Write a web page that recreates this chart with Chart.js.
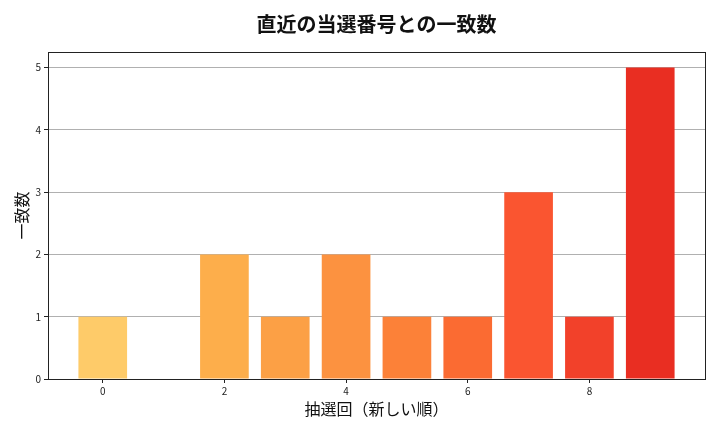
<!DOCTYPE html>
<html>
<head>
<meta charset="utf-8">
<script src="https://cdn.jsdelivr.net/npm/chart.js@4/dist/chart.umd.min.js"></script>
<style>
html,body{margin:0;padding:0;background:#fff;}
#wrap{width:720px;height:432px;position:relative;}
</style>
</head>
<body>
<div id="wrap"><canvas id="c" width="720" height="432"></canvas></div>
<script>
const titleText = "直近の当選番号との一致数";
const xTitle = "抽選回（新しい順）";
const yTitle = "一致数";
const drawIndex = [0,1,2,3,4,5,6,7,8,9];
const matchCounts = [1,0,2,1,2,1,1,3,1,5];
const barColors = ["#fecb69","#febd58","#fdae4b","#fca045","#fc9240","#fc8138","#fb6b32","#fa5530","#f2412a","#e92e22"];
const xTickValues = [0,2,4,6,8];
const yTickValues = [0,1,2,3,4,5];

const FONT = "'Noto Sans CJK JP', 'Noto Sans', sans-serif";

const boxPlugin = {
  id: 'box',
  afterDraw(chart){
    const a = chart.chartArea, ctx = chart.ctx;
    ctx.save();
    ctx.strokeStyle = '#222';
    ctx.lineWidth = 1;
    ctx.strokeRect(Math.round(a.left)+0.5, Math.round(a.top)+0.5, Math.round(a.right-a.left), Math.round(a.bottom-a.top));
    ctx.restore();
  }
};

new Chart(document.getElementById('c'), {
  type: 'bar',
  data: {
    datasets: [{
      data: drawIndex.map((x,i)=>({x:x, y:matchCounts[i]})),
      backgroundColor: barColors,
      borderWidth: 0,
      barPercentage: 0.8,
      categoryPercentage: 1.0
    }]
  },
  options: {
    responsive: false,
    animation: false,
    devicePixelRatio: 1,
    layout: { padding: { left: 8, right: 15, top: 0, bottom: 0 } },
    plugins: {
      legend: { display: false },
      tooltip: { enabled: false },
      title: { display: false }
    },
    scales: {
      x: {
        type: 'linear',
        offset: false,
        min: -0.9,
        max: 9.9,
        afterBuildTicks(s){ s.ticks = xTickValues.map(v=>({value:v})); },
        afterFit(s){ s.height = 53; },
        ticks: { color: '#222', font: { family: FONT, size: 10 }, padding: 2, autoSkip: false, maxRotation: 0 },
        grid: { offset: false, drawOnChartArea: false, drawTicks: true, tickLength: 4, color: '#222' },
        border: { color: '#222' },
        title: { display: true, text: xTitle, color: '#111', font: { family: FONT, size: 16 }, padding: { top: 2, bottom: 13 } }
      },
      xTop: {
        type: 'linear',
        position: 'top',
        offset: false,
        min: -0.9,
        max: 9.9,
        afterFit(s){ s.height = 52; },
        ticks: { display: false },
        grid: { display: false, drawTicks: false },
        border: { display: false },
        title: { display: true, text: titleText, color: '#111', font: { family: FONT, size: 20, weight: 'bold' }, padding: { top: 12, bottom: 0 } }
      },
      y: {
        min: 0,
        max: 5.25,
        afterBuildTicks(s){ s.ticks = yTickValues.map(v=>({value:v})); },
        afterFit(s){ s.width = 40; },
        ticks: { color: '#222', font: { family: FONT, size: 10 }, padding: 3 },
        grid: { color: '#b0b0b0', lineWidth: 1, tickLength: 4, tickColor: '#222' },
        border: { color: '#222' },
        title: { display: true, text: yTitle, color: '#111', font: { family: FONT, size: 16 }, padding: { top: 4, bottom: 0 } }
      }
    }
  },
  plugins: [boxPlugin]
});
</script>
</body>
</html>
